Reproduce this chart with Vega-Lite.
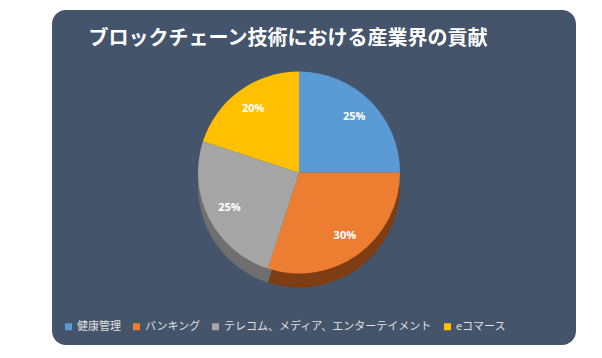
{
  "$schema": "https://vega.github.io/schema/vega-lite/v6.json",
  "width": 524,
  "height": 335,
  "autosize": "none",
  "padding": {"left": 52, "top": 10, "right": 26, "bottom": 13},
  "background": "white",
  "view": {"fill": "#44546A", "stroke": null, "cornerRadius": 14},
  "title": {
    "text": "ブロックチェーン技術における産業界の貢献",
    "anchor": "middle",
    "orient": "top",
    "offset": -49,
    "baseline": "middle",
    "dx": -26,
    "color": "#FFFFFF",
    "font": "Noto Sans CJK JP",
    "fontSize": 20,
    "fontWeight": "bold"
  },
  "data": {
    "values": [
      {"industry": "健康管理", "share": 25, "label": "25%", "order": 1},
      {"industry": "バンキング", "share": 30, "label": "30%", "order": 2},
      {"industry": "テレコム、メディア、エンターテイメント", "share": 25, "label": "25%", "order": 3},
      {"industry": "eコマース", "share": 20, "label": "20%", "order": 4}
    ]
  },
  "encoding": {
    "theta": {"field": "share", "type": "quantitative", "stack": true},
    "order": {"field": "order", "type": "quantitative"}
  },
  "layer": [
    {
      "mark": {"type": "arc", "outerRadius": 101, "xOffset": -15, "yOffset": 9},
      "encoding": {
        "color": {
          "field": "industry",
          "type": "nominal",
          "scale": {
            "domain": ["健康管理", "バンキング", "テレコム、メディア、エンターテイメント", "eコマース"],
            "range": ["#35628F", "#7E3D12", "#6F6F6F", "#9A7500"]
          },
          "legend": null
        }
      }
    },
    {
      "mark": {"type": "arc", "outerRadius": 101, "xOffset": -15, "yOffset": -5},
      "encoding": {
        "color": {
          "field": "industry",
          "type": "nominal",
          "scale": {
            "domain": ["健康管理", "バンキング", "テレコム、メディア、エンターテイメント", "eコマース"],
            "range": ["#5B9BD5", "#ED7D31", "#A5A5A5", "#FFC000"]
          },
          "legend": {
            "orient": "none",
            "legendX": 11,
            "legendY": 311,
            "direction": "horizontal",
            "title": null,
            "symbolType": "square",
            "symbolSize": 50,
            "symbolStrokeWidth": 0,
            "labelColor": "#E0E0E0",
            "labelFont": "Noto Sans CJK JP",
            "labelFontSize": 11,
            "labelOffset": 3,
            "columnPadding": 10,
            "labelLimit": 300
          }
        }
      }
    },
    {
      "mark": {"type": "text", "radius": 78, "xOffset": -15, "yOffset": -5, "color": "#FFFFFF", "font": "Open Sans", "fontWeight": "bold", "fontSize": 11},
      "encoding": {
        "text": {"field": "label", "type": "nominal"}
      }
    }
  ],
  "resolve": {"scale": {"color": "independent"}, "legend": {"color": "independent"}}
}
